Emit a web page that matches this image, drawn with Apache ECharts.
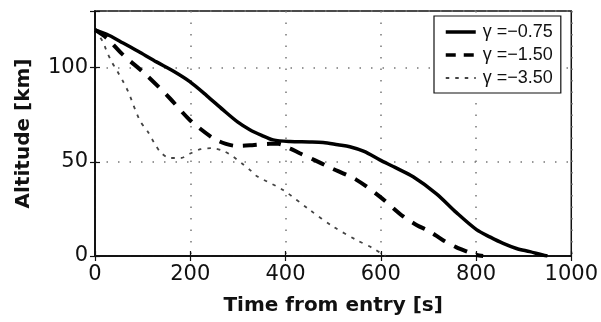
<!DOCTYPE html>
<html>
<head>
<meta charset="utf-8">
<script src="https://cdn.jsdelivr.net/npm/echarts@6/dist/echarts.min.js"></script>
<style>html,body{margin:0;padding:0;background:#fff;}#c{width:601px;height:322px;}</style>
</head>
<body>
<div id="c"></div>
<script>
var seriesNames = ['γ =−0.75', 'γ =−1.50', 'γ =−3.50'];
var xTicks = [0, 200, 400, 600, 800, 1000];
var yTicks = [0, 50, 100];

var timeA = [0, 30, 59, 95, 129, 165, 199, 235, 269, 300, 325, 350, 374, 409, 450, 479, 510, 535, 565, 598, 630, 668, 717, 759, 801, 830, 857, 885, 913, 940, 950];
var altA  = [120, 117, 113, 108, 103, 98, 92.5, 85, 77.5, 71, 67, 64, 61.6, 60.7, 60.5, 60.2, 59, 58, 55.5, 51, 47, 42, 33, 23, 14, 10, 6.7, 4, 2.3, 0.5, 0];

var timeB = [0, 25, 59, 108, 157, 199, 248, 275, 297, 330, 367, 385, 410, 430, 460, 493, 549, 598, 647, 675, 703, 730, 759, 785, 801, 815];
var altB  = [120, 115.6, 106.7, 96, 83.7, 72.2, 62.5, 59.5, 58.4, 58.8, 59.5, 59.5, 57, 54.5, 51, 47, 40.4, 31.5, 21, 16.5, 13, 8.5, 4.6, 2, 0.5, 0];

var timeC = [0, 16, 24, 35, 47, 59, 70, 94, 112, 124, 138, 157, 180, 201, 222, 245, 269, 290, 308, 327, 339, 395, 451, 500, 549, 584, 600, 610];
var altC  = [120, 114, 109, 103, 98, 92.6, 87, 72, 65.5, 60.2, 55, 52, 52, 54.5, 56.7, 57.2, 55.8, 52.7, 49.2, 45.3, 42.5, 35, 24.4, 15.6, 8.5, 4.1, 1.5, 0];

function pairs(t, a) { return t.map(function (v, i) { return [v, a[i]]; }); }

var chart = echarts.init(document.getElementById('c'));
var font = 'Liberation Sans, Arial, Helvetica, sans-serif';
var wideFont = 'DejaVu Sans, Liberation Sans, sans-serif';
var lineStyles = [
  { color: '#000', width: 3.5, type: 'solid' },
  { color: '#000', width: 4, type: [14, 10] },
  { color: '#444', width: 1.8, type: [3.5, 6] }
];
var axisCommon = {
  axisLine: { show: true, lineStyle: { color: '#111', width: 1.5 } },
  axisTick: { show: true, inside: true, length: 5, lineStyle: { color: '#111', width: 1.2 } }
};
chart.setOption({
  animation: false,
  backgroundColor: '#fff',
  grid: { left: 95, right: 29, top: 11, bottom: 66, show: true, borderColor: '#111', borderWidth: 1.5 },
  legend: {
    orient: 'vertical',
    left: 434, top: 16,
    width: 130,
    padding: [7, 8, 6, 10],
    itemGap: 5,
    itemWidth: 30,
    itemHeight: 14,
    borderColor: '#111', borderWidth: 1.2,
    backgroundColor: '#fff',
    itemStyle: { opacity: 0, borderWidth: 0 },
    textStyle: { fontFamily: font, fontSize: 18, color: '#111', padding: [0, 0, 0, 2] },
    data: seriesNames.map(function (n, i) {
      return { name: n, lineStyle: { width: i === 2 ? 1.8 : 3.5, type: i === 1 ? [10, 8] : lineStyles[i].type, color: lineStyles[i].color } };
    })
  },
  xAxis: [{
    type: 'value', min: xTicks[0], max: xTicks[xTicks.length - 1], interval: 200,
    name: 'Time from entry [s]', nameLocation: 'middle', nameGap: 40,
    nameTextStyle: { fontFamily: wideFont, fontSize: 20, fontWeight: 'bold', color: '#111' },
    axisLabel: { fontFamily: wideFont, fontSize: 21, color: '#111', margin: 8,
      formatter: function (v) { return xTicks.indexOf(v) >= 0 ? String(v) : ''; } },
    splitLine: { show: true, lineStyle: { type: [1.5, 10], color: '#777', width: 1.5 } },
    axisLine: axisCommon.axisLine, axisTick: axisCommon.axisTick
  }, {
    type: 'value', position: 'top', min: xTicks[0], max: xTicks[xTicks.length - 1], interval: 200,
    axisLabel: { show: false }, splitLine: { show: false },
    axisLine: axisCommon.axisLine, axisTick: axisCommon.axisTick
  }],
  yAxis: [{
    type: 'value', min: 0, max: 130, interval: 50,
    name: 'Altitude [km]', nameLocation: 'middle', nameGap: 61,
    nameTextStyle: { fontFamily: wideFont, fontSize: 20, fontWeight: 'bold', color: '#111' },
    axisLabel: { fontFamily: wideFont, fontSize: 21, color: '#111', margin: 7,
      formatter: function (v) { return yTicks.indexOf(v) >= 0 ? String(v) : ''; } },
    splitLine: { show: true, lineStyle: { type: [1.5, 10], color: '#777', width: 1.5 } },
    axisLine: axisCommon.axisLine, axisTick: axisCommon.axisTick
  }, {
    type: 'value', position: 'right', min: 0, max: 130, interval: 50,
    axisLabel: { show: false }, splitLine: { show: false },
    axisLine: axisCommon.axisLine, axisTick: axisCommon.axisTick
  }],
  series: [{
    name: seriesNames[0], type: 'line', data: pairs(timeA, altA), smooth: 0.3, showSymbol: false, symbol: 'none',
    lineStyle: lineStyles[0], itemStyle: { color: '#000' }, z: 5
  }, {
    name: seriesNames[1], type: 'line', data: pairs(timeB, altB), smooth: 0.3, showSymbol: false, symbol: 'none',
    lineStyle: lineStyles[1], itemStyle: { color: '#000' }, z: 4
  }, {
    name: seriesNames[2], type: 'line', data: pairs(timeC, altC), smooth: 0.3, showSymbol: false, symbol: 'none',
    lineStyle: lineStyles[2], itemStyle: { color: '#444' }, z: 3
  }]
});
</script>
</body>
</html>
